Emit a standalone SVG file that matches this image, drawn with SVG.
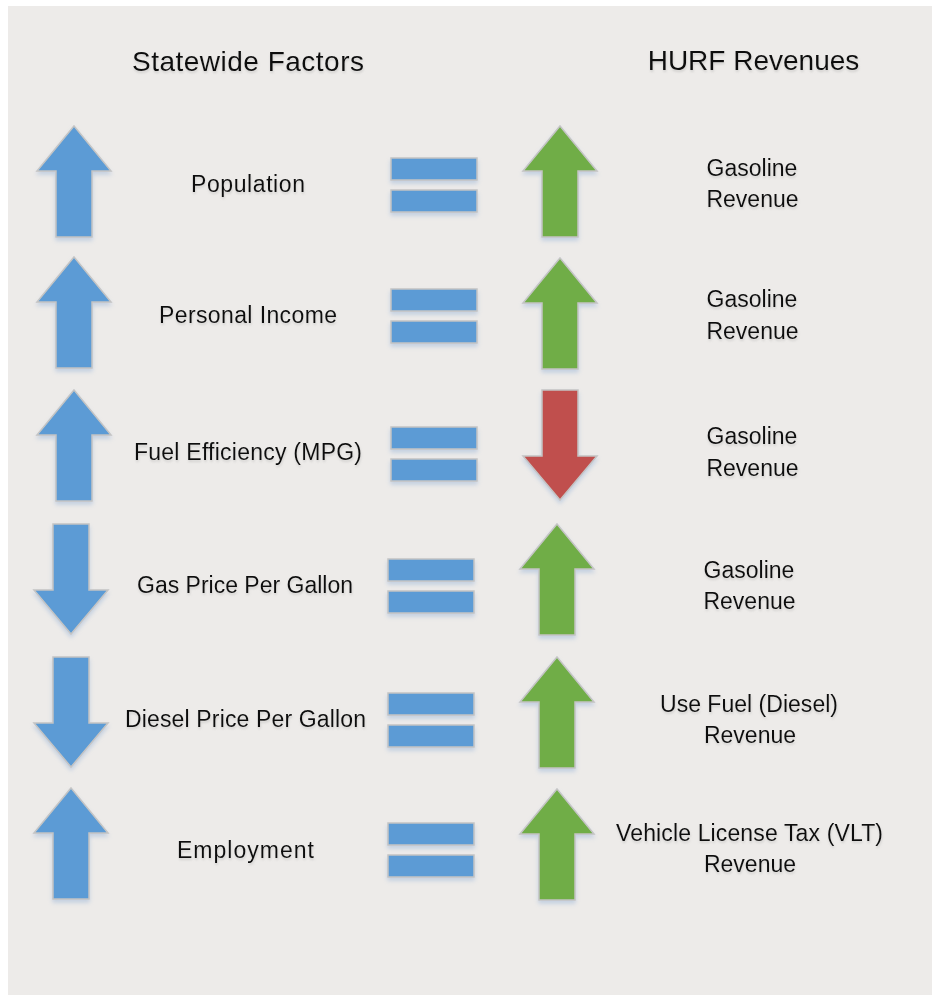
<svg xmlns="http://www.w3.org/2000/svg" xmlns:xlink="http://www.w3.org/1999/xlink" width="932" height="995" viewBox="0 0 932 995">
  <defs>
    <style>
      .panel { fill: #EDEBE9; }
      .shape { stroke: #C4C4C4; stroke-width: 1.5; stroke-linejoin: miter; filter: url(#softShadow); }
      .blue { fill: #5B9BD5; }
      .green { fill: #70AD47; }
      .red { fill: #C0504D; }
      text { font-family: "Liberation Sans", Arial, sans-serif; fill: #111111; text-anchor: middle; filter: url(#textShadow); }
      .title { font-size: 28px; }
      .label { font-size: 23px; }
    </style>
    <filter id="softShadow" x="-30%" y="-20%" width="160%" height="150%">
      <feDropShadow dx="0" dy="3" stdDeviation="2.2" flood-color="#8FAFD6" flood-opacity="0.45"/>
    </filter>
    <filter id="textShadow" x="-10%" y="-30%" width="120%" height="170%">
      <feDropShadow dx="0.5" dy="2" stdDeviation="1.2" flood-color="#9A9A9A" flood-opacity="0.35"/>
    </filter>
    <!-- arrow shapes with tip (up) or top edge (down) at the origin -->
    <path id="upArrow" d="M0,0 L37,45 L18,45 L18,111 L-18,111 L-18,45 L-37,45 Z"/>
    <path id="downArrow" d="M-18,0 L18,0 L18,66 L37,66 L0,110 L-37,66 L-18,66 Z"/>
    <g id="equalsSign">
      <rect x="0" y="0" width="86" height="22"/>
      <rect x="0" y="32" width="86" height="22"/>
    </g>
  </defs>

  <rect class="panel" x="8" y="6" width="924" height="989"/>

  <g id="headings">
    <text class="title" x="248" y="71" textLength="232" lengthAdjust="spacing">Statewide Factors</text>
    <text class="title" x="753.5" y="70">HURF Revenues</text>
  </g>

  <!-- Row 1: Population -->
  <g id="row-population">
    <use xlink:href="#upArrow" class="shape blue" x="74" y="126"/>
    <text class="label" x="248" y="192" textLength="114" lengthAdjust="spacing">Population</text>
    <use xlink:href="#equalsSign" class="shape blue" x="391" y="158"/>
    <use xlink:href="#upArrow" class="shape green" x="560" y="126"/>
    <text class="label" x="752" y="176">Gasoline</text>
    <text class="label" x="752.5" y="207">Revenue</text>
  </g>

  <!-- Row 2: Personal Income -->
  <g id="row-income">
    <use xlink:href="#upArrow" class="shape blue" x="74" y="257"/>
    <text class="label" x="248" y="323" textLength="178" lengthAdjust="spacing">Personal Income</text>
    <use xlink:href="#equalsSign" class="shape blue" x="391" y="289"/>
    <use xlink:href="#upArrow" class="shape green" x="560" y="258"/>
    <text class="label" x="752" y="307">Gasoline</text>
    <text class="label" x="752.5" y="339">Revenue</text>
  </g>

  <!-- Row 3: Fuel Efficiency -->
  <g id="row-efficiency">
    <use xlink:href="#upArrow" class="shape blue" x="74" y="390"/>
    <text class="label" x="248" y="460" textLength="228" lengthAdjust="spacing">Fuel Efficiency (MPG)</text>
    <use xlink:href="#equalsSign" class="shape blue" x="391" y="427"/>
    <use xlink:href="#downArrow" class="shape red" x="560" y="390"/>
    <text class="label" x="752" y="444">Gasoline</text>
    <text class="label" x="752.5" y="476">Revenue</text>
  </g>

  <!-- Row 4: Gas Price -->
  <g id="row-gas-price">
    <use xlink:href="#downArrow" class="shape blue" x="71" y="524"/>
    <text class="label" x="245" y="593" textLength="216" lengthAdjust="spacing">Gas Price Per Gallon</text>
    <use xlink:href="#equalsSign" class="shape blue" x="388" y="559"/>
    <use xlink:href="#upArrow" class="shape green" x="557" y="524"/>
    <text class="label" x="749" y="578">Gasoline</text>
    <text class="label" x="749.5" y="609">Revenue</text>
  </g>

  <!-- Row 5: Diesel Price -->
  <g id="row-diesel-price">
    <use xlink:href="#downArrow" class="shape blue" x="71" y="657"/>
    <text class="label" x="245.5" y="727" textLength="241" lengthAdjust="spacing">Diesel Price Per Gallon</text>
    <use xlink:href="#equalsSign" class="shape blue" x="388" y="693"/>
    <use xlink:href="#upArrow" class="shape green" x="557" y="657"/>
    <text class="label" x="749" y="712" textLength="178" lengthAdjust="spacing">Use Fuel (Diesel)</text>
    <text class="label" x="750" y="743">Revenue</text>
  </g>

  <!-- Row 6: Employment -->
  <g id="row-employment">
    <use xlink:href="#upArrow" class="shape blue" x="71" y="788"/>
    <text class="label" x="245.5" y="858" textLength="137" lengthAdjust="spacing">Employment</text>
    <use xlink:href="#equalsSign" class="shape blue" x="388" y="823"/>
    <use xlink:href="#upArrow" class="shape green" x="557" y="789"/>
    <text class="label" x="749.5" y="841" textLength="267" lengthAdjust="spacing">Vehicle License Tax (VLT)</text>
    <text class="label" x="750" y="872">Revenue</text>
  </g>
</svg>
